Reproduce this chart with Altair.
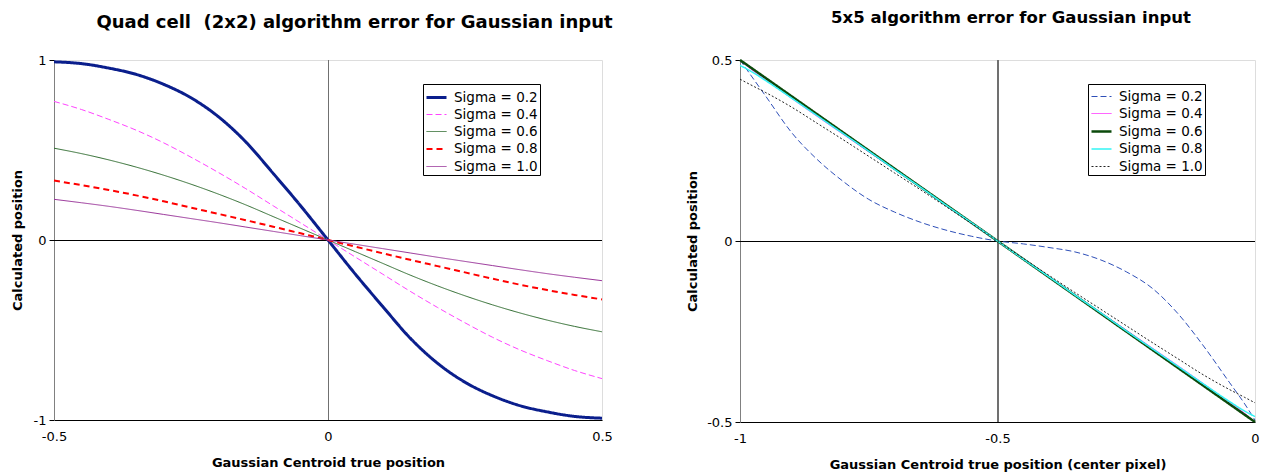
import altair as alt
import pandas as pd

# ---------------- Left panel: quad cell (2x2) ----------------
xl = [-0.5, -0.45, -0.4, -0.35, -0.3, -0.25, -0.2, -0.15, -0.1, -0.05, 0.0,
      0.05, 0.1, 0.15, 0.2, 0.25, 0.3, 0.35, 0.4, 0.45, 0.5]
q_s02 = [0.99, 0.98, 0.955, 0.92, 0.865, 0.79, 0.685, 0.545, 0.37, 0.19, 0.0,
         -0.19, -0.37, -0.545, -0.685, -0.79, -0.865, -0.92, -0.955, -0.98, -0.99]
q_s04 = [0.77, 0.725, 0.67, 0.61, 0.54, 0.46, 0.375, 0.285, 0.19, 0.095, 0.0,
         -0.095, -0.19, -0.285, -0.375, -0.46, -0.54, -0.61, -0.67, -0.725, -0.77]
q_s06 = [0.51, 0.48, 0.445, 0.405, 0.36, 0.31, 0.255, 0.195, 0.13, 0.065, 0.0,
         -0.065, -0.13, -0.195, -0.255, -0.31, -0.36, -0.405, -0.445, -0.48, -0.51]
q_s08 = [0.33, 0.305, 0.278, 0.248, 0.215, 0.18, 0.145, 0.11, 0.074, 0.037, 0.0,
         -0.037, -0.074, -0.11, -0.145, -0.18, -0.215, -0.248, -0.278, -0.305, -0.33]
q_s10 = [0.226, 0.207, 0.187, 0.165, 0.142, 0.119, 0.096, 0.072, 0.048, 0.024, 0.0,
         -0.024, -0.048, -0.072, -0.096, -0.119, -0.142, -0.165, -0.187, -0.207, -0.226]

# ---------------- Right panel: 5x5 ----------------
xr = [-1.0, -0.98, -0.95, -0.9, -0.85, -0.8, -0.75, -0.7, -0.65, -0.6, -0.55, -0.5,
      -0.45, -0.4, -0.35, -0.3, -0.25, -0.2, -0.15, -0.1, -0.05, -0.02, 0.0]
f_s02 = [0.5, 0.46, 0.4, 0.3, 0.225, 0.165, 0.115, 0.08, 0.052, 0.03, 0.013, 0.0,
         -0.008, -0.018, -0.03, -0.052, -0.085, -0.13, -0.2, -0.29, -0.39, -0.45, -0.495]
f_s04 = [0.5, 0.476, 0.445, 0.394, 0.344, 0.295, 0.246, 0.197, 0.148, 0.098, 0.049, 0.0,
         -0.049, -0.098, -0.148, -0.197, -0.246, -0.295, -0.344, -0.394, -0.445, -0.476, -0.5]
f_s06 = [0.5, 0.48, 0.45, 0.4, 0.35, 0.3, 0.25, 0.2, 0.15, 0.1, 0.05, 0.0,
         -0.05, -0.1, -0.15, -0.2, -0.25, -0.3, -0.35, -0.4, -0.45, -0.48, -0.5]
f_s08 = [0.485, 0.47, 0.443, 0.395, 0.346, 0.297, 0.248, 0.198, 0.149, 0.099, 0.05, 0.0,
         -0.05, -0.099, -0.149, -0.198, -0.248, -0.297, -0.346, -0.395, -0.443, -0.47, -0.485]
f_s10 = [0.447, 0.432, 0.41, 0.37, 0.325, 0.28, 0.234, 0.188, 0.142, 0.095, 0.048, 0.0,
         -0.048, -0.095, -0.142, -0.188, -0.234, -0.28, -0.325, -0.37, -0.41, -0.432, -0.447]

labels = ["Sigma = 0.2", "Sigma = 0.4", "Sigma = 0.6", "Sigma = 0.8", "Sigma = 1.0"]

left_colors = ["#0A1E8C", "#FF44FF", "#2E6B2E", "#FF0000", "#993399"]
left_dash = [[1, 0], [6, 3], [1, 0], [6, 4], [1, 0]]
left_width = [3, 1, 1, 2, 1]

right_colors = ["#2E4FB8", "#FF33FF", "#0B4A0B", "#33F5F5", "#222222"]
right_dash = [[6, 3], [1, 0], [1, 0], [1, 0], [2, 2]]
right_width = [1, 1, 2.5, 1.5, 1]

FONT = "Verdana, DejaVu Sans, sans-serif"
LBL = "datum.value < 0 ? '-' + format(-datum.value, '~g') : format(datum.value, '~g')"


def long_df(xs, series):
    rows = []
    for lab, ys in zip(labels, series):
        for x, y in zip(xs, ys):
            rows.append({"x": x, "y": y, "s": lab})
    return pd.DataFrame(rows)


def panel(df, xdom, ydom, xticks, yticks, xzero, colors, dashes, widths,
          title, tsize, tdx, tdy, toff, xtitle, w, h, legx, yext):
    leg = alt.Legend(
        title=None, orient="none", legendX=legx, legendY=24,
        strokeColor="black", fillColor="white", padding=2,
        symbolType="stroke", symbolSize=400, labelFont=FONT,
        labelFontSize=13.5, rowPadding=0, labelColor="black", labelOffset=6)
    xs = alt.Scale(domain=xdom, nice=False, zero=False)
    ys = alt.Scale(domain=ydom, nice=False, zero=False)
    lines = alt.Chart(df).mark_line(interpolate="monotone").encode(
        x=alt.X("x:Q", scale=xs,
                axis=alt.Axis(values=xticks, title=xtitle, labelExpr=LBL,
                              ticks=False, labelPadding=10, titlePadding=13,
                              labelFlush=False, domainColor="black",
                              labelFont=FONT, labelFontSize=13,
                              titleFont=FONT, titleFontSize=13,
                              titleFontWeight="bold")),
        y=alt.Y("y:Q", scale=ys,
                axis=alt.Axis(values=yticks, title="Calculated position",
                              labelExpr=LBL, tickSize=5, tickColor="black",
                              labelPadding=3, titlePadding=8,
                              minExtent=yext, maxExtent=yext,
                              labelFlush=False, domainColor="#808080",
                              labelFont=FONT, labelFontSize=13,
                              titleFont=FONT, titleFontSize=13,
                              titleFontWeight="bold")),
        color=alt.Color("s:N", scale=alt.Scale(domain=labels, range=colors),
                        legend=leg),
        strokeDash=alt.StrokeDash("s:N",
                                  scale=alt.Scale(type="ordinal", domain=labels,
                                                  range=dashes),
                                  legend=leg),
        strokeWidth=alt.StrokeWidth("s:N",
                                    scale=alt.Scale(type="ordinal", domain=labels,
                                                    range=widths),
                                    legend=leg),
    )
    hline = alt.Chart(df).mark_rule(color="black", strokeWidth=1, yOffset=0.5).encode(
        y=alt.datum(0))
    vline = alt.Chart(df).mark_rule(color="#707070", strokeWidth=1, xOffset=0.5).encode(
        x=alt.datum(xzero))
    return alt.layer(hline, vline, lines).properties(
        width=w, height=h,
        title=alt.TitleParams(title, font=FONT, fontSize=tsize,
                              fontWeight="bold", anchor="middle", dx=tdx, dy=tdy,
                              offset=toff, color="black"),
    )


left = panel(long_df(xl, [q_s02, q_s04, q_s06, q_s08, q_s10]),
             [-0.5, 0.5], [-1, 1], [-0.5, 0, 0.5], [-1, 0, 1], 0,
             left_colors, left_dash, left_width,
             "Quad cell \u00a0(2x2) algorithm error for Gaussian input", 18, 26.5, 0, 22.5,
             "Gaussian Centroid true position", 548, 360, 369, 22)

right = panel(long_df(xr, [f_s02, f_s04, f_s06, f_s08, f_s10]),
              [-1, 0], [-0.5, 0.5], [-1, -0.5, 0], [-0.5, 0, 0.5], -0.5,
              right_colors, right_dash, right_width,
              "5x5 algorithm error for Gaussian input", 16.5, 13.5, -3, 24.3,
              "Gaussian Centroid true position (center pixel)", 515, 362, 348, 33)

chart = alt.hconcat(left, right, spacing=71).resolve_scale(
    color="independent", strokeDash="independent", strokeWidth="independent"
).properties(
    padding={"left": 2, "top": 1, "right": 0, "bottom": 2}
).configure_view(stroke="#808080", strokeWidth=1).configure_axis(
    grid=False, labelColor="black", titleColor="black"
).configure(background="white")

chart.save("out.html", embed_options={"renderer": "svg", "actions": False})
